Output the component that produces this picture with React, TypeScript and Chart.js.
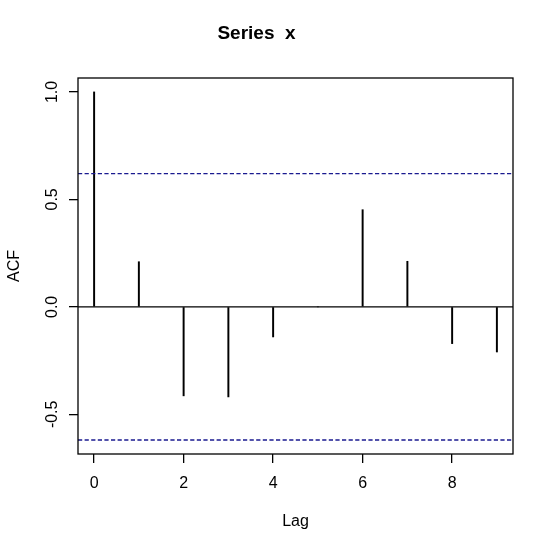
import React, { useEffect, useRef } from "react";
import { Chart, registerables } from "chart.js";

Chart.register(...registerables);

const lags = [0, 1, 2, 3, 4, 5, 6, 7, 8, 9];
const acfValues = [1.0, 0.21, -0.414, -0.419, -0.14, 0.0, 0.452, 0.212, -0.171, -0.21];
const ciValue = 0.6198;
const xTickValues = [0, 2, 4, 6, 8];
const yTickValues = [-0.5, 0, 0.5, 1.0];
const xRange = [-0.36, 9.36];
const yRange = [-0.6846, 1.0648];

const FONT = "'Liberation Sans', Arial, sans-serif";

const boxPlugin = {
  id: "rbox",
  afterDatasetsDraw(chart: any) {
    const { ctx, chartArea, scales } = chart;
    const ys = scales.y;
    ctx.save();
    ctx.beginPath();
    ctx.rect(chartArea.left, chartArea.top, chartArea.right - chartArea.left, chartArea.bottom - chartArea.top);
    ctx.clip();
    ctx.strokeStyle = "#000";
    ctx.lineWidth = 1.3;
    ctx.beginPath();
    const y0 = ys.getPixelForValue(0);
    ctx.moveTo(chartArea.left, y0);
    ctx.lineTo(chartArea.right, y0);
    ctx.stroke();
    ctx.strokeStyle = "#1a1a90";
    ctx.lineWidth = 1.4;
    ctx.setLineDash([4.2, 2.4]);
    [ciValue, -ciValue].forEach((v) => {
      const yy = ys.getPixelForValue(v);
      ctx.beginPath();
      ctx.moveTo(chartArea.left, yy);
      ctx.lineTo(chartArea.right, yy);
      ctx.stroke();
    });
    ctx.restore();
    ctx.save();
    ctx.strokeStyle = "#000";
    ctx.lineWidth = 1.3;
    ctx.strokeRect(chartArea.left, chartArea.top, chartArea.right - chartArea.left, chartArea.bottom - chartArea.top);
    ctx.restore();
  },
};

export default function App() {
  const ref = useRef<HTMLCanvasElement | null>(null);
  useEffect(() => {
    if (!ref.current) return;
    const chart = new Chart(ref.current, {
      type: "bar",
      data: {
        datasets: [
          {
            data: lags.map((l, i) => ({ x: l, y: acfValues[i] })),
            backgroundColor: "#000",
            borderWidth: 0,
            barThickness: 1.3,
          } as any,
        ],
      },
      options: {
        responsive: false,
        animation: false,
        layout: { padding: { left: 0, right: 40, top: 0, bottom: 0 } },
        plugins: {
          legend: { display: false },
          tooltip: { enabled: false },
          title: {
            display: true,
            text: "Series  x",
            color: "#000",
            font: { family: FONT, size: 19, weight: "bold" },
            padding: { top: 22.6, bottom: 32.6 },
          },
        },
        scales: {
          x: {
            type: "linear",
            min: xRange[0],
            max: xRange[1],
            offset: false,
            afterFit: (s: any) => {
              s.height = 98;
            },
            afterBuildTicks: (s: any) => {
              s.ticks = xTickValues.map((v) => ({ value: v }));
            },
            grid: {
              offset: false,
              drawOnChartArea: false,
              drawTicks: true,
              tickLength: 9,
              color: "#000",
              lineWidth: 1.3,
            },
            border: { display: false },
            ticks: {
              color: "#000",
              font: { family: FONT, size: 16 },
              padding: 11,
              maxRotation: 0,
              autoSkip: false,
              callback: (v: any) => String(v),
            },
            title: {
              display: true,
              text: "Lag",
              color: "#000",
              font: { family: FONT, size: 16 },
              padding: { top: 0, bottom: 20.4 },
            },
          },
          y: {
            type: "linear",
            min: yRange[0],
            max: yRange[1],
            afterFit: (s: any) => {
              s.width = 78;
            },
            afterBuildTicks: (s: any) => {
              s.ticks = yTickValues.map((v) => ({ value: v }));
            },
            grid: {
              drawOnChartArea: false,
              drawTicks: true,
              tickLength: 9,
              color: "#000",
              lineWidth: 1.3,
            },
            border: { display: false },
            ticks: {
              color: "#000",
              font: { family: FONT, size: 16 },
              padding: 2.2,
              minRotation: 90,
              maxRotation: 90,
              crossAlign: "center",
              autoSkip: false,
              callback: (v: any) => Number(v).toFixed(1),
            },
            title: {
              display: true,
              text: "ACF",
              color: "#000",
              font: { family: FONT, size: 16 },
              padding: { top: 5.4, bottom: 0 },
            },
          },
        },
      },
      plugins: [boxPlugin],
    });
    return () => chart.destroy();
  }, []);
  return (
    <div style={{ position: "absolute", left: 0, top: 0, width: 553, height: 552, background: "#fff" }}>
      <canvas ref={ref} width={553} height={552} />
    </div>
  );
}
